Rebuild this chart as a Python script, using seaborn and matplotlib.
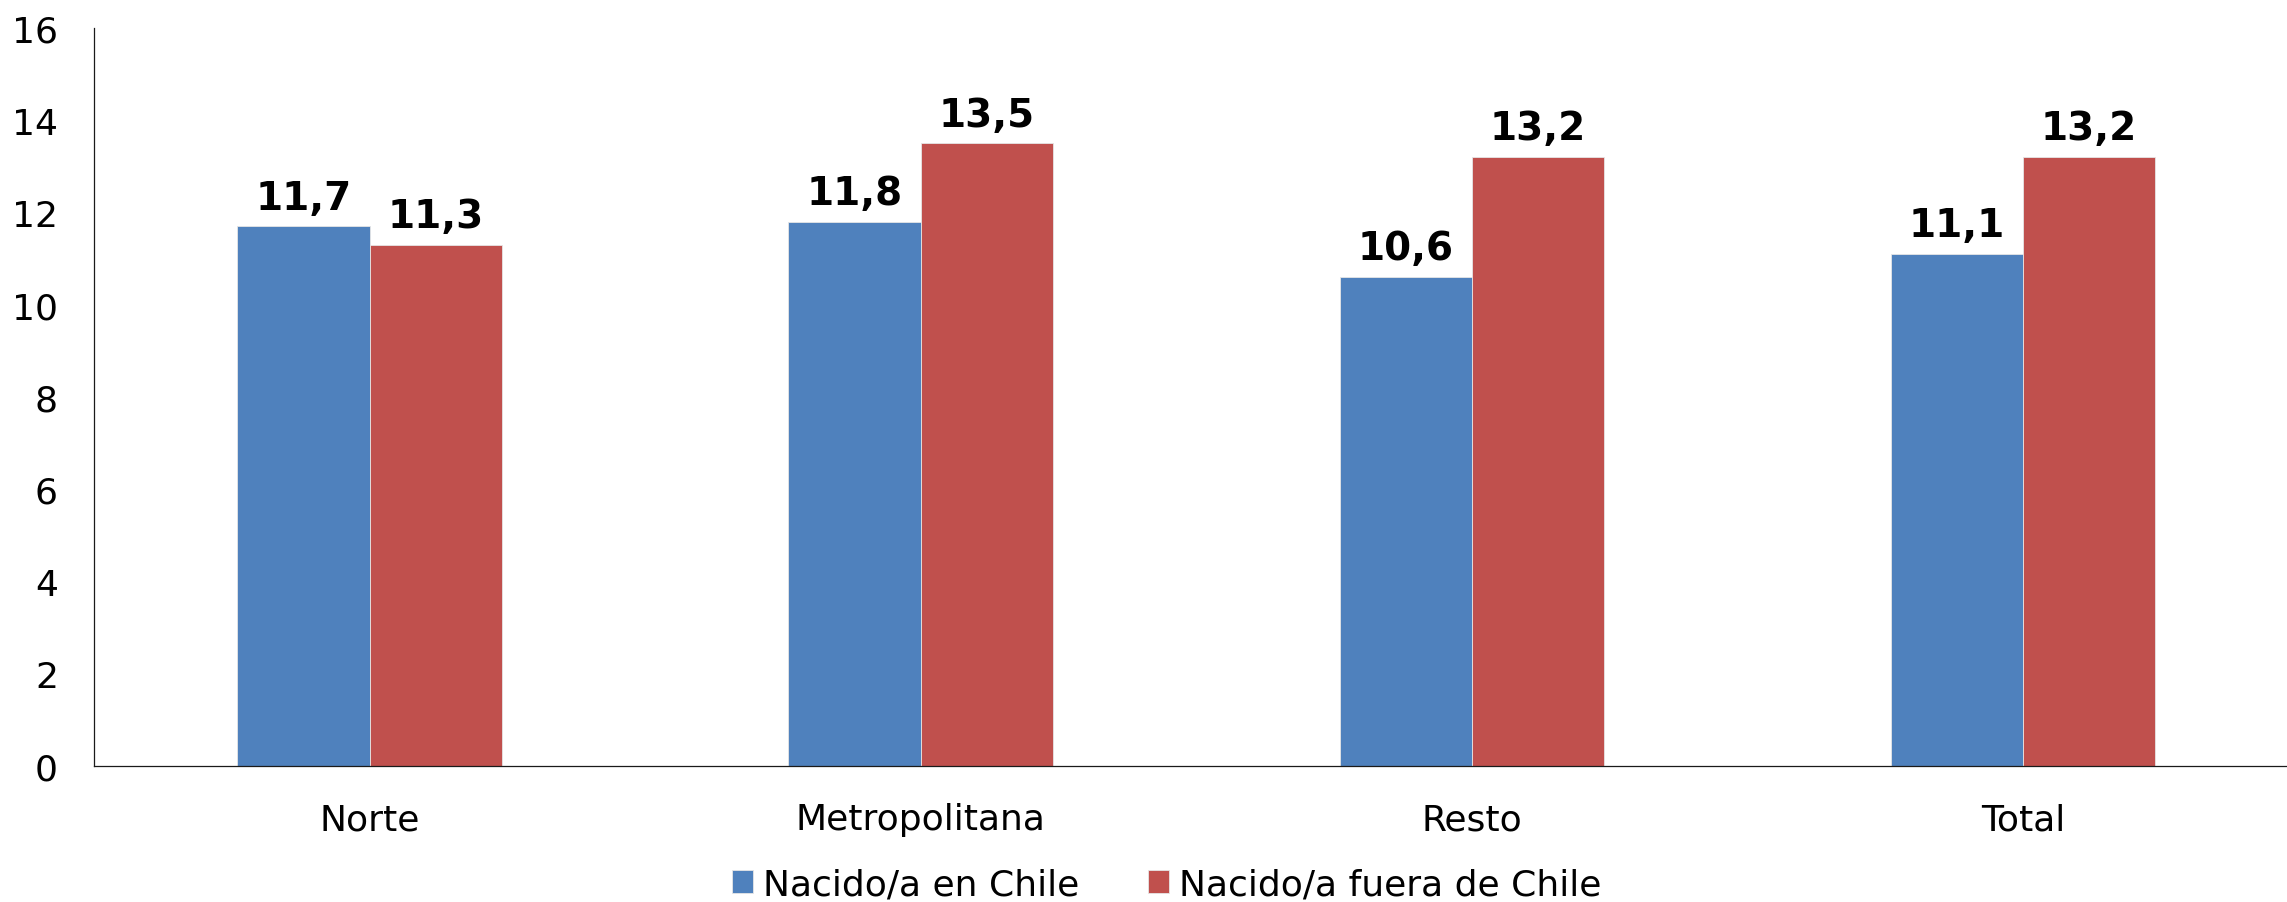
import pandas as pd
import numpy as np
import matplotlib
matplotlib.use("Agg")
import matplotlib.pyplot as plt
import seaborn as sns

# data
regiones = ["Norte", "Metropolitana", "Resto", "Total"]
grupos = ["Nacido/a en Chile", "Nacido/a fuera de Chile"]
nacido_chile = [11.7, 11.8, 10.6, 11.1]
nacido_fuera = [11.3, 13.5, 13.2, 13.2]
y_ticks = [0, 2, 4, 6, 8, 10, 12, 14, 16]

colores = ["#4F81BD", "#C0504D"]

df = pd.DataFrame({
    "Region": regiones * 2,
    "Grupo": [grupos[0]] * 4 + [grupos[1]] * 4,
    "Valor": nacido_chile + nacido_fuera,
})

sns.set_theme(style="white")
plt.rcParams["font.family"] = ["DejaVu Sans"]
plt.rcParams["text.color"] = "black"

fig = plt.figure(figsize=(22.87, 9.03), dpi=100)
ax = fig.add_axes([0.0411, 0.1506, 0.9639, 0.8173])

sns.barplot(data=df, x="Region", y="Valor", hue="Grupo", order=regiones,
            hue_order=grupos, palette=colores, width=0.48, saturation=1,
            edgecolor="#e6e6e6", linewidth=0.6, errorbar=None, ax=ax)

# value labels with decimal comma
for cont, vals in zip(ax.containers, [nacido_chile, nacido_fuera]):
    ax.bar_label(cont, labels=[f"{v:.1f}".replace(".", ",") for v in vals],
                 padding=7, fontsize=28, fontweight="bold", color="black")

ax.set_xlim(-0.5, 3.5)
ax.set_ylim(0, 16)
ax.set_yticks(y_ticks)
ax.set_xlabel("")
ax.set_ylabel("")
ax.tick_params(axis="both", length=0, labelsize=26, colors="black")
ax.tick_params(axis="y", pad=26)
ax.tick_params(axis="x", pad=26)

for s in ["top", "right"]:
    ax.spines[s].set_visible(False)
for s in ["left", "bottom"]:
    ax.spines[s].set_color("#1a1a1a")
    ax.spines[s].set_linewidth(0.9)

handles, labels = ax.get_legend_handles_labels()
ax.get_legend().remove()
fig.legend(handles, labels, loc="center", bbox_to_anchor=(0.5103, 0.0199),
           bbox_transform=fig.transFigure, ncol=2, frameon=False,
           fontsize=26, labelcolor="black", handlelength=0.58, handleheight=0.58,
           handletextpad=0.28, columnspacing=1.9)

fig.savefig("out.png", dpi=100)
